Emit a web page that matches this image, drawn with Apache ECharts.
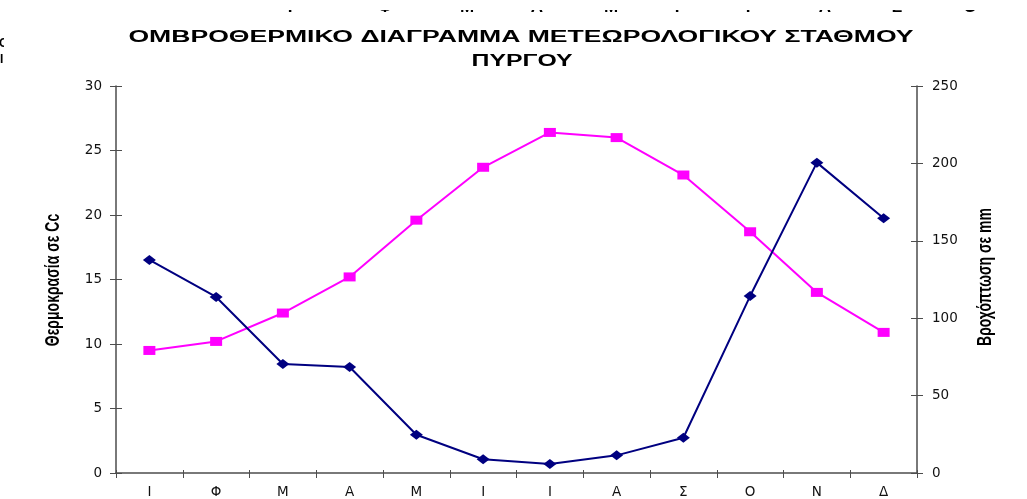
<!DOCTYPE html>
<html><head><meta charset="utf-8">
<script src="https://cdn.jsdelivr.net/npm/echarts@6/dist/echarts.min.js"></script>
<style>html,body{margin:0;padding:0;background:#fff}#c{width:1027px;height:499px}</style>
</head><body><div id="c"></div>
<script>
// ---- data ----
const months = ['Ι','Φ','Μ','Α','Μ','Ι','Ι','Α','Σ','Ο','Ν','Δ'];
const temperature = [9.5, 10.2, 12.4, 15.2, 19.6, 23.7, 26.4, 26.0, 23.1, 18.7, 14.0, 10.9];
const rainfall = [137.6, 113.7, 70.4, 68.5, 24.7, 8.9, 5.8, 11.4, 22.8, 114.3, 200.5, 164.5];
const tempMin = 0, tempMax = 30, tempStep = 5;
const rainMin = 0, rainMax = 250, rainStep = 50;
const titleLines = ['ΟΜΒΡΟΘΕΡΜΙΚΟ ΔΙΑΓΡΑΜΜΑ ΜΕΤΕΩΡΟΛΟΓΙΚΟΥ ΣΤΑΘΜΟΥ', 'ΠΥΡΓΟΥ'];
const leftName = 'Θερμοκρασία σε Cc';
const rightName = 'Βροχόπτωση σε mm';
// clipped text row at the very top of the picture
const topRow = ['Ι','Φ','Μ','Α','Μ','Ι','Ι','Α','Σ','Ο'];
const topRowX = [290, 385, 467, 537, 611, 677, 748, 825, 897, 970];

const chart = echarts.init(document.getElementById('c'));
const axisColor = '#4d4d4d';
const tickFont = {fontFamily: 'DejaVu Sans', fontSize: 13.5, color: '#111'};

const graphics = [];
topRow.forEach((t, i) => graphics.push({
  type: 'text', x: topRowX[i], y: 16, z: 1,
  style: {text: t, font: 'bold 17px "Liberation Sans"', fill: '#000', textAlign: 'center', textVerticalAlign: 'bottom'}
}));
graphics.push({type: 'text', x: -1, y: 44, z: 1, style: {text: 'Ο', font: 'bold 12px "Liberation Sans"', fill: '#000', textAlign: 'left', textVerticalAlign: 'middle'}});
graphics.push({type: 'text', x: 0, y: 60, z: 1, style: {text: 'Ι', font: 'bold 12px "Liberation Sans"', fill: '#000', textAlign: 'left', textVerticalAlign: 'middle'}});
graphics.push({type: 'rect', z: 2, shape: {x: 250, y: 0, width: 777, height: 10}, style: {fill: '#fff'}});
graphics.push({type: 'rect', z: 2, shape: {x: 4, y: 36, width: 60, height: 16}, style: {fill: '#fff'}});
graphics.push({
  type: 'text', x: 521, y: 38, scaleX: 1.66, z: 3,
  style: {text: titleLines[0], font: 'bold 16px "Liberation Sans"', fill: '#000', textAlign: 'center', textVerticalAlign: 'middle'}
});
graphics.push({
  type: 'text', x: 522, y: 62, scaleX: 1.55, z: 3,
  style: {text: titleLines[1], font: 'bold 16px "Liberation Sans"', fill: '#000', textAlign: 'center', textVerticalAlign: 'middle'}
});
graphics.push({
  type: 'text', x: 54, y: 280, rotation: Math.PI / 2, scaleY: 1.4, z: 3,
  style: {text: leftName, font: 'bold 14px "Liberation Sans"', fill: '#000', textAlign: 'center', textVerticalAlign: 'middle'}
});
graphics.push({
  type: 'text', x: 986, y: 277, rotation: Math.PI / 2, scaleY: 1.4, z: 3,
  style: {text: rightName, font: 'bold 14px "Liberation Sans"', fill: '#000', textAlign: 'center', textVerticalAlign: 'middle'}
});

chart.setOption({
  animation: false,
  backgroundColor: '#fff',
  graphic: graphics,
  grid: {left: 116, right: 110, top: 86, bottom: 26, containLabel: false},
  xAxis: [{
    type: 'category', data: months, boundaryGap: true, position: 'bottom',
    axisLine: {lineStyle: {color: axisColor, width: 1.5}},
    axisTick: {show: true, inside: false, length: 5, lineStyle: {color: axisColor}},
    axisLabel: Object.assign({margin: 12, fontSize: 13}, tickFont),
    splitLine: {show: false}
  }, {
    type: 'category', data: months, boundaryGap: true, position: 'bottom',
    axisLine: {show: false},
    axisTick: {show: true, inside: true, length: 3, lineStyle: {color: axisColor}},
    axisLabel: {show: false}, splitLine: {show: false}
  }],
  yAxis: [{
    type: 'value', min: tempMin, max: tempMax, interval: tempStep, position: 'left',
    axisLine: {show: true, lineStyle: {color: axisColor, width: 1.5}},
    axisTick: {show: true, length: 6, lineStyle: {color: axisColor}},
    axisLabel: Object.assign({margin: 14}, tickFont),
    splitLine: {show: false}
  }, {
    type: 'value', min: rainMin, max: rainMax, interval: rainStep, position: 'right',
    axisLine: {show: true, lineStyle: {color: axisColor, width: 1.5}},
    axisTick: {show: true, length: 6, lineStyle: {color: axisColor}},
    axisLabel: Object.assign({margin: 15}, tickFont),
    splitLine: {show: false}
  }, {
    type: 'value', min: tempMin, max: tempMax, interval: tempStep, position: 'left',
    axisLine: {show: false}, axisTick: {show: true, inside: true, length: 6, lineStyle: {color: axisColor}},
    axisLabel: {show: false}, splitLine: {show: false}
  }, {
    type: 'value', min: rainMin, max: rainMax, interval: rainStep, position: 'right',
    axisLine: {show: false}, axisTick: {show: true, inside: true, length: 6, lineStyle: {color: axisColor}},
    axisLabel: {show: false}, splitLine: {show: false}
  }],
  series: [{
    name: 'Θερμοκρασία', type: 'line', data: temperature, xAxisIndex: 0, yAxisIndex: 0,
    symbol: 'rect', symbolSize: [12, 9],
    lineStyle: {color: '#ff00ff', width: 2}, itemStyle: {color: '#ff00ff'}, z: 3
  }, {
    name: 'Βροχόπτωση', type: 'line', data: rainfall, xAxisIndex: 0, yAxisIndex: 1,
    symbol: 'diamond', symbolSize: [13, 10],
    lineStyle: {color: '#000080', width: 2}, itemStyle: {color: '#000080'}, z: 4
  }]
});
</script></body></html>
